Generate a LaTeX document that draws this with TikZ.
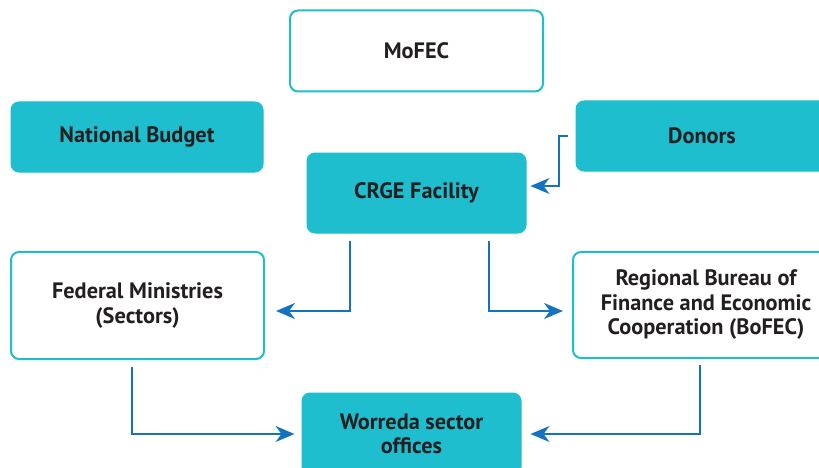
\documentclass[tikz,border=0pt]{standalone}
\usepackage{fontspec}
\setmainfont{PT Sans}
\usetikzlibrary{arrows.meta}
\definecolor{teal1}{HTML}{1EBECE}
\definecolor{arrblue}{HTML}{1472BF}
\definecolor{txt}{HTML}{231F20}
\begin{document}
\begin{tikzpicture}[x=1pt,y=-1pt,
  box/.style={rounded corners=8pt, align=center, font=\fontsize{22.3}{24.5}\selectfont\bfseries, text=txt, inner sep=0pt},
  filledbox/.style={box, fill=teal1, draw=teal1, line width=1pt},
  whitebox/.style={box, fill=white, draw=teal1, line width=2pt},
  arr/.style={draw=arrblue, line width=2pt, -{Stealth[length=19pt,width=16pt,inset=6pt]}}]
\useasboundingbox (0,0) rectangle (819,468);
\clip (0,0) rectangle (819,468);
\node[whitebox, minimum width=253pt, minimum height=81pt] (mofec) at (416.5,51) {MoFEC};
\node[filledbox, minimum width=252pt, minimum height=70pt] (national) at (137,137) {National Budget};
\node[filledbox, minimum width=252pt, minimum height=70pt] (donors) at (702,136) {Donors};
\node[filledbox, minimum width=219pt, minimum height=80pt] (crge) at (416.5,193) {CRGE Facility};
\node[whitebox, minimum width=253pt, minimum height=107pt] (federal) at (137.5,305.5) {Federal Ministries\\(Sectors)};
\node[whitebox, minimum width=266pt, minimum height=106pt] (regional) at (706,305) {Regional Bureau of\\Finance and Economic\\Cooperation (BoFEC)};
\node[filledbox, minimum width=219pt, minimum height=82pt] (worreda) at (411.5,434) {Worreda sector\\offices};
\draw[arr, shorten <=8pt, shorten >=4pt] (donors.west) -- ++(-17,0) |- ([yshift=7pt]crge.east);
\draw[arr, shorten <=7pt, shorten >=11pt] ([xshift=-66.5pt]crge.south) |- ([yshift=-5.5pt]federal.east);
\draw[arr, shorten <=7pt, shorten >=9pt] ([xshift=72.5pt]crge.south) |- ([yshift=-6pt]regional.west);
\draw[arr, shorten <=7pt, shorten >=7pt] ([xshift=-5.5pt]federal.south) |- (worreda.west);
\draw[arr, shorten <=6pt, shorten >=9pt] ([xshift=-6pt]regional.south) |- (worreda.east);
\end{tikzpicture}
\end{document}
